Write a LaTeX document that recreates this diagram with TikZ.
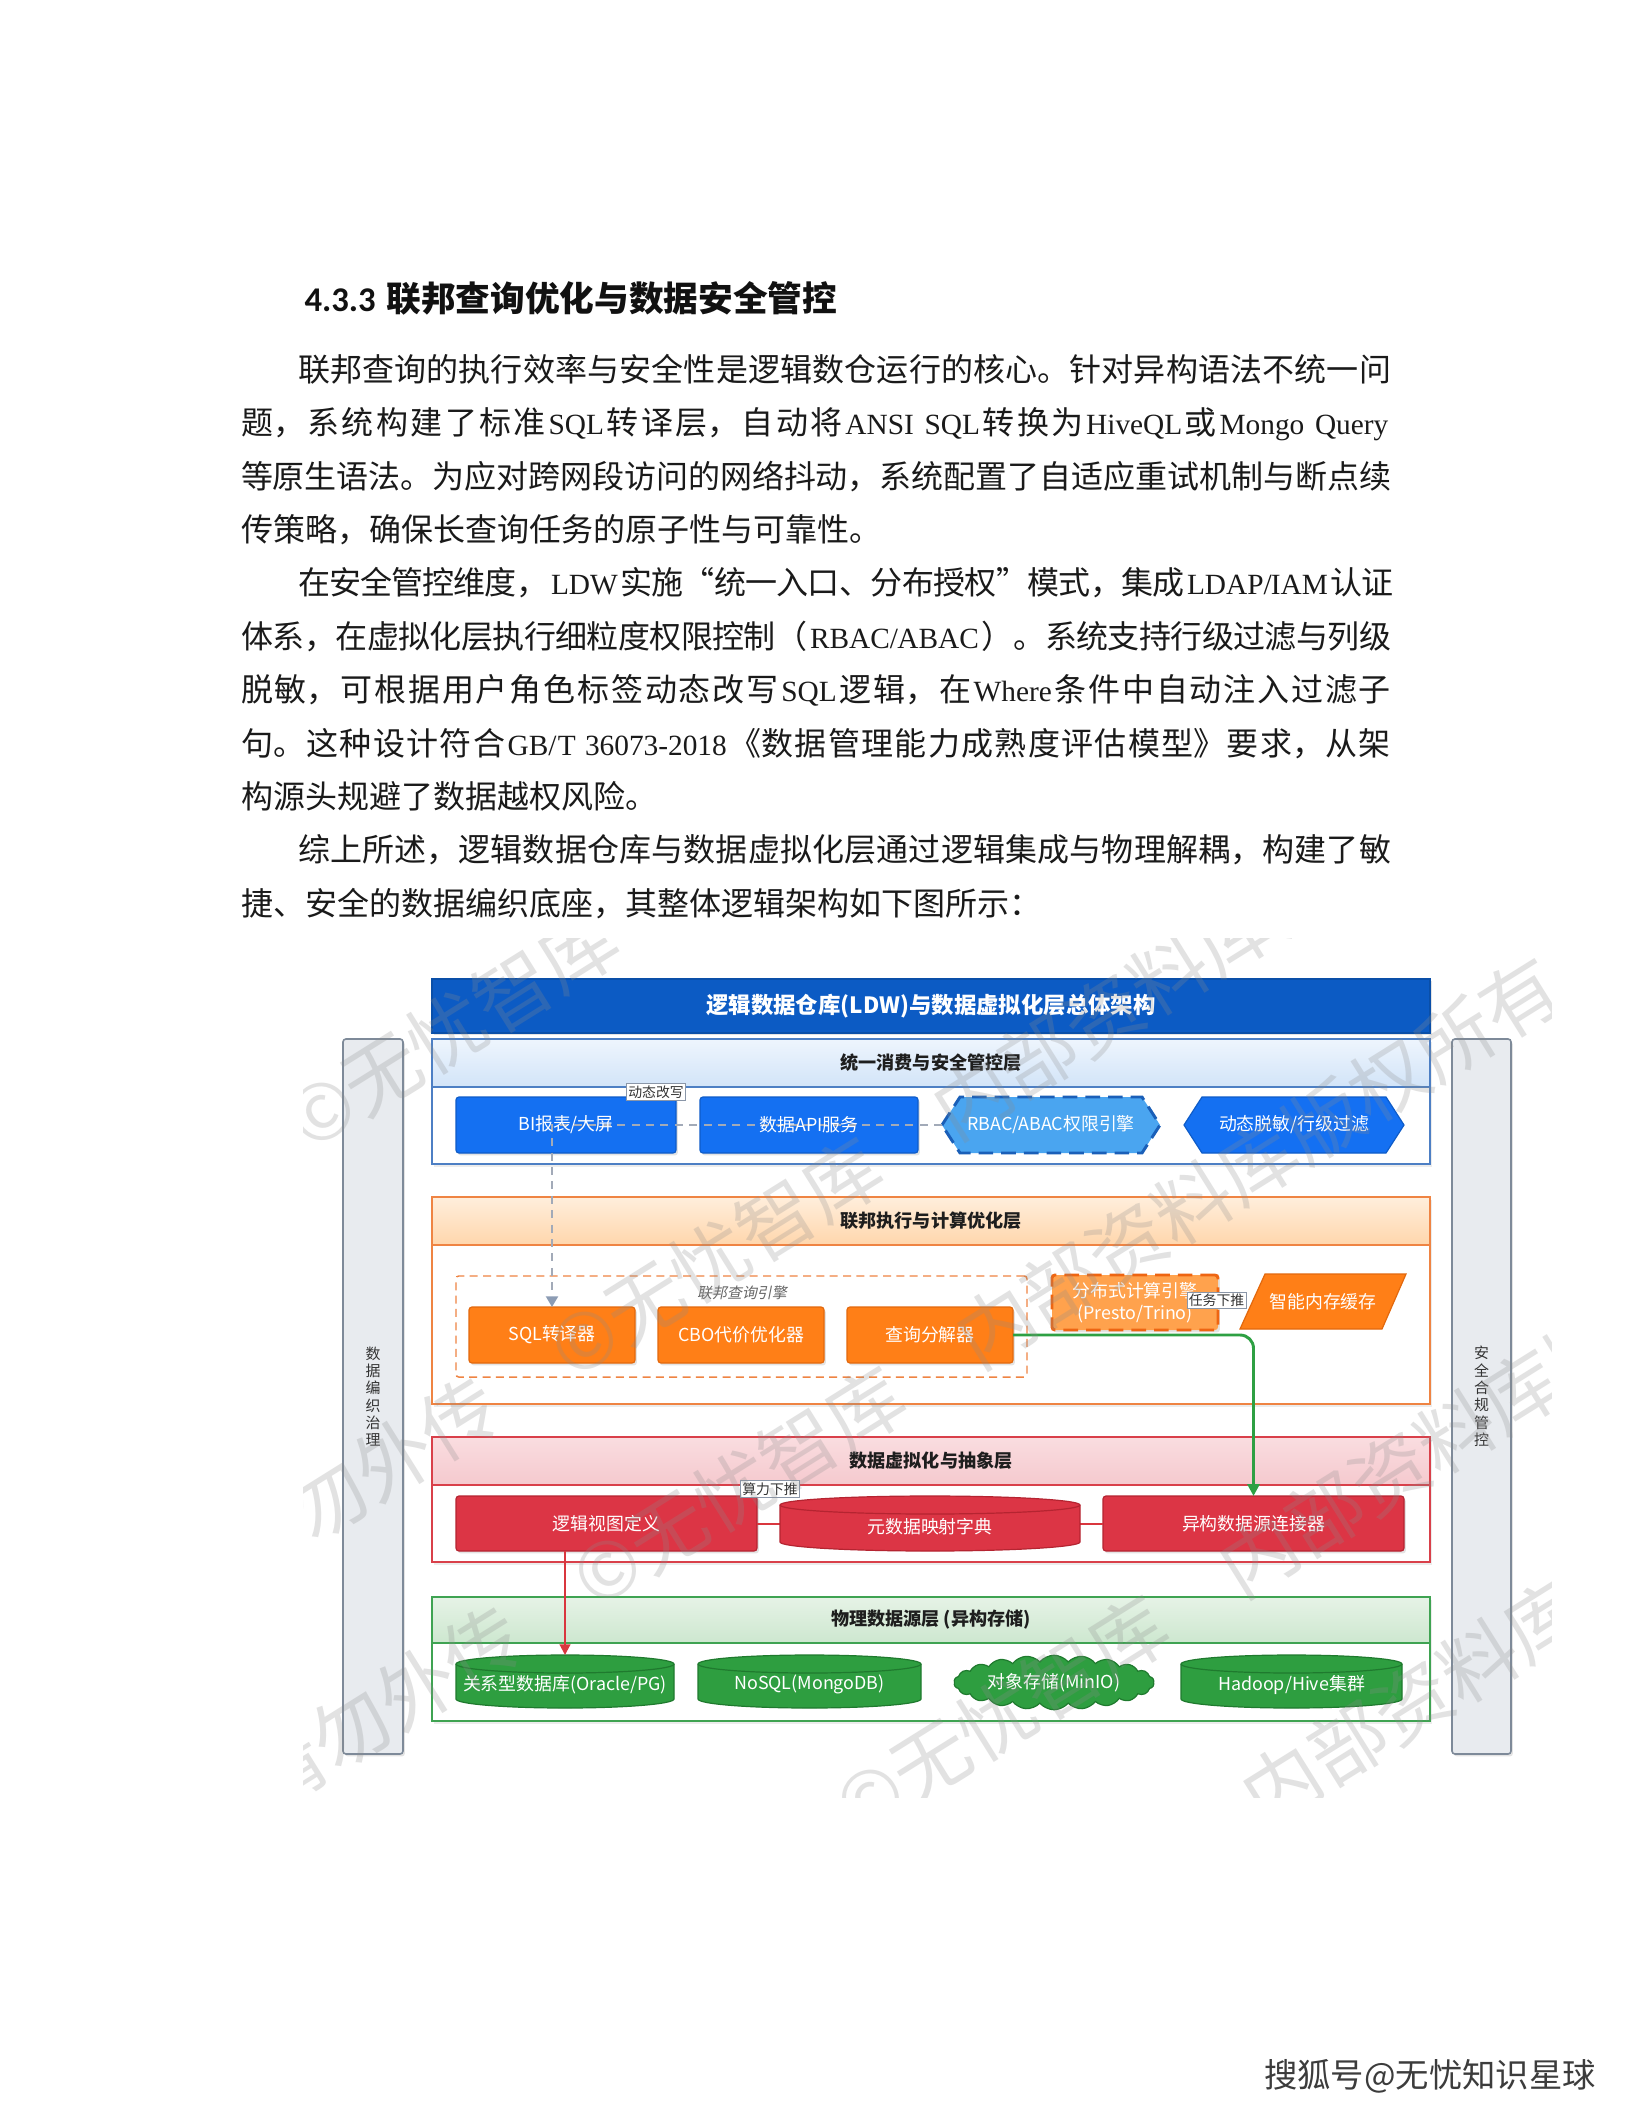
\documentclass[tikz,border=0pt]{standalone}
\usepackage{fontspec}
\setmainfont{Noto Sans CJK SC}
\newfontfamily\carlito{Carlito}
\newfontfamily\latfont{Liberation Serif}
\newfontfamily\cjkit{Noto Sans CJK SC}[FakeSlant=0.2]
\usetikzlibrary{arrows.meta,shapes.symbols,shadows}
\XeTeXlinebreaklocale "zh"
\XeTeXlinebreakskip=0pt plus 1pt minus 0.35pt
\newcommand\lat[1]{\kern1pt{\latfont\fontsize{11pt}{14pt}\selectfont #1}\kern1pt}
\newcommand\jline[2]{\parbox[t]{#1}{\XeTeXlinebreakpenalty=10000\tolerance=10000\hbadness=10000\hfuzz=20pt\parfillskip=0pt\parindent=0pt\rightskip=0pt #2\par}}
\definecolor{bodyc}{HTML}{1A1A1A}
\definecolor{headc}{HTML}{111111}
\definecolor{titlef}{HTML}{0C5BC4}
\definecolor{titled}{HTML}{0A4FA8}
\definecolor{bluef}{HTML}{1470F2}
\definecolor{blued}{HTML}{0E5CC8}
\definecolor{rbacf}{HTML}{4AA5F0}
\definecolor{rbacd}{HTML}{1A5FB8}
\definecolor{bframe}{HTML}{4D7FC4}
\definecolor{bheadT}{HTML}{EEF5FD}
\definecolor{bheadB}{HTML}{D2E4F8}
\definecolor{oframe}{HTML}{EF8443}
\definecolor{oheadT}{HTML}{FFEEDC}
\definecolor{oheadB}{HTML}{FFD6AC}
\definecolor{orgf}{HTML}{FF7F17}
\definecolor{orgd}{HTML}{E2680D}
\definecolor{distf}{HTML}{FFA24D}
\definecolor{distd}{HTML}{EE6512}
\definecolor{rframe}{HTML}{D9404A}
\definecolor{rheadT}{HTML}{FADDE0}
\definecolor{rheadB}{HTML}{F5C9CE}
\definecolor{redf}{HTML}{DC3545}
\definecolor{redd}{HTML}{B52431}
\definecolor{gframe}{HTML}{3FA352}
\definecolor{gheadT}{HTML}{E6F3E6}
\definecolor{gheadB}{HTML}{CDE7CF}
\definecolor{grnf}{HTML}{2E9E40}
\definecolor{grnd}{HTML}{1F7A2E}
\definecolor{sidef}{HTML}{E8EBEF}
\definecolor{sided}{HTML}{7E8A99}
\definecolor{sidetxt}{HTML}{333333}
\definecolor{dashg}{HTML}{A2AAB8}
\definecolor{arrowg}{HTML}{8C9CB4}
\definecolor{linkg}{HTML}{2EA043}
\definecolor{linkr}{HTML}{D9363E}
\definecolor{lblb}{HTML}{8A96A8}
\definecolor{lblt}{HTML}{333333}
\definecolor{hdrtxt}{HTML}{1E1E1E}
\definecolor{grptxt}{HTML}{666666}
\definecolor{sohu}{HTML}{3C3C3C}
\definecolor{wmgray}{HTML}{8C8C8C}

\newcommand\cylnode[7]{%
  \pgfmathsetmacro\cylrx{(#3-#2)/2*0.375}%
  \filldraw[fill=#6f, draw=#6d, line width=0.45pt] (#2,#4+9) -- (#2,#5-9)
    arc[start angle=180, end angle=360, x radius=\cylrx pt, y radius=3.375pt] -- (#3,#4+9)
    arc[start angle=0, end angle=180, x radius=\cylrx pt, y radius=3.375pt] -- cycle;
  \draw[draw=#6d, line width=0.45pt] (#3,#4+9) arc[start angle=0, end angle=-180, x radius=\cylrx pt, y radius=3.375pt];
  \coordinate (#1-top) at ({(#2+#3)/2},#4);
  \node[boxtxt] (#1) at ({(#2+#3)/2},{(#4+#5)/2+3}) {#7};
}
\newcommand\hexnode[6]{%
  \path[#5] (#2,#4) -- (#2+18,#4-28) -- (#3-18,#4-28) -- (#3,#4) -- (#3-18,#4+28) -- (#2+18,#4+28) -- cycle;
  \coordinate (#1-w) at (#2,#4);
  \node[boxtxt] (#1) at ({(#2+#3)/2},#4) {#6};
}

\tikzset{
  bodytxt/.style={anchor=base west, inner sep=0pt, outer sep=0pt, text=bodyc, font=\fontsize{12pt}{14pt}\selectfont},
  sz/.style 2 args={minimum width=#1*0.375pt, minimum height=#2*0.375pt},
  boxtxt/.style={inner sep=0pt, text=white, align=center, font=\fontsize{6.7pt}{8.2pt}\selectfont},
  dbox/.style={draw, rounded corners=1.1pt, inner sep=0pt, outer sep=0pt, line width=0.45pt, text=white, align=center, font=\fontsize{6.7pt}{8.2pt}\selectfont, drop shadow={opacity=0.22, shadow xshift=0.7pt, shadow yshift=-0.9pt}},
  layerframe/.style={draw, fill=white, line width=0.5pt, inner sep=0pt, outer sep=0pt, drop shadow={opacity=0.15, shadow xshift=0.8pt, shadow yshift=-1pt}},
  hdr/.style={draw, line width=0.5pt, inner sep=0pt, outer sep=0pt, font=\fontsize{6.8pt}{8pt}\selectfont\bfseries, text=hdrtxt},
  lbl/.style={fill=white, draw=lblb, line width=0.3pt, inner sep=0.7pt, font=\fontsize{5.2pt}{6pt}\selectfont, text=lblt},
  thickdash/.style={line width=1.1pt, dash pattern=on 5.5pt off 3pt},
  wmark/.style={inner sep=0pt, text=wmgray, text opacity=0.25, font=\fontsize{29pt}{32pt}\selectfont, rotate=32},
}

\begin{document}
\begin{tikzpicture}[x=0.375pt,y=-0.375pt]
\useasboundingbox (0,0) rectangle (1632,2112);
\fill[white] (0,0) rectangle (1632,2112);

% ---------- heading and body ----------
\node[anchor=base west, inner sep=0pt, text=headc] (h433) at (304,311)
  {\fontsize{13pt}{15pt}\selectfont\bfseries{\carlito\bfseries 4.3.3}\hspace{4pt}联邦查询优化与数据安全管控};

\node[bodytxt] (b1) at (298,381.5) {\jline{409.9pt}{联邦查询的执行效率与安全性是逻辑数仓运行的核心。针对异构语法不统一问}};
\node[bodytxt] (b2) at (241,434.9) {\jline{431.25pt}{题，系统构建了标准\lat{SQL}转译层，自动将\lat{ANSI\kern4pt SQL}转换为\lat{HiveQL}或\lat{Mongo~Query}}};
\node[bodytxt] (b3) at (241,488.2) {\jline{431.25pt}{等原生语法。为应对跨网段访问的网络抖动，系统配置了自适应重试机制与断点续}};
\node[bodytxt] (b4) at (241,541.6) {传策略，确保长查询任务的原子性与可靠性。};
\node[bodytxt] (b5) at (298,594.9) {\jline{409.9pt}{在安全管控维度，\lat{LDW}实施“统一入口、分布授权”模式，集成\lat{LDAP/IAM}认证}};
\node[bodytxt] (b6) at (241,648.3) {\jline{431.25pt}{体系，在虚拟化层执行细粒度权限控制（\lat{RBAC/ABAC}）。系统支持行级过滤与列级}};
\node[bodytxt] (b7) at (241,701.6) {\jline{431.25pt}{脱敏，可根据用户角色标签动态改写\lat{SQL}逻辑，在\lat{Where}条件中自动注入过滤子}};
\node[bodytxt] (b8) at (241,755.0) {\jline{431.25pt}{句。这种设计符合\lat{GB/T~36073-2018}《数据管理能力成熟度评估模型》要求，从架}};
\node[bodytxt] (b9) at (241,808.3) {构源头规避了数据越权风险。};
\node[bodytxt] (b10) at (298,861.7) {\jline{409.9pt}{综上所述，逻辑数据仓库与数据虚拟化层通过逻辑集成与物理解耦，构建了敏}};
\node[bodytxt] (b11) at (241,915.0) {捷、安全的数据编织底座，其整体逻辑架构如下图所示：};

% ---------- side bars ----------
\node[dbox, fill=sidef, draw=sided, line width=0.6pt, sz={60}{715}, text=sidetxt, font=\fontsize{5.6pt}{6.5pt}\selectfont] (lbar) at (373,1396.5) {数\\据\\编\\织\\治\\理};
\node[dbox, fill=sidef, draw=sided, line width=0.6pt, sz={59}{715}, text=sidetxt, font=\fontsize{5.6pt}{6.5pt}\selectfont] (rbar) at (1481.5,1396.5) {安\\全\\合\\规\\管\\控};

% ---------- title bar ----------
\node[dbox, fill=titlef, draw=titled, rounded corners=0pt, sz={998}{54}, font=\fontsize{8.4pt}{10pt}\selectfont\bfseries] (title) at (931,1006) {逻辑数据仓库(LDW)与数据虚拟化层总体架构};

% ---------- layer frames ----------
\node[layerframe, draw=bframe, sz={998}{125}] (L1) at (931,1101.5) {};
\node[hdr, draw=bframe, top color=bheadT, bottom color=bheadB, sz={998}{48}] (L1h) at (931,1063) {统一消费与安全管控层};

\node[layerframe, draw=oframe, sz={998}{207}] (L2) at (931,1300.5) {};
\node[hdr, draw=oframe, top color=oheadT, bottom color=oheadB, sz={998}{48}] (L2h) at (931,1221) {联邦执行与计算优化层};

\node[layerframe, draw=rframe, sz={998}{125}] (L3) at (931,1499.5) {};
\node[hdr, draw=rframe, top color=rheadT, bottom color=rheadB, sz={998}{48}] (L3h) at (931,1461) {数据虚拟化与抽象层};

\node[layerframe, draw=gframe, sz={998}{124}] (L4) at (931,1659) {};
\node[hdr, draw=gframe, top color=gheadT, bottom color=gheadB, sz={998}{46}] (L4h) at (931,1620) {物理数据源层 (异构存储)};

% ---------- layer 1 ----------
\node[dbox, fill=bluef, draw=blued, sz={220}{56}] (bi) at (566,1125) {};
\node[dbox, fill=bluef, draw=blued, sz={218}{56}] (api) at (809,1125) {};
\hexnode{rbac}{942}{1160}{1125}{fill=rbacf, draw=rbacd, thickdash}{RBAC/ABAC权限引擎}
\hexnode{mask}{1184}{1404}{1125}{fill=bluef, draw=blued, line width=0.45pt}{动态脱敏/行级过滤}

% ---------- layer 2 ----------
\node[draw=oframe, line width=0.55pt, dash pattern=on 3pt off 2pt, rounded corners=1pt, sz={571}{101}, inner sep=0pt] (fedgrp) at (741.5,1326.5) {};
\node[inner sep=0pt, text=grptxt, font=\cjkit\fontsize{5.6pt}{6.5pt}\selectfont] (fedlbl) at (742,1293) {联邦查询引擎};
\node[dbox, fill=orgf, draw=orgd, sz={166}{56}] (sqlt) at (552,1335) {SQL转译器};
\node[dbox, fill=orgf, draw=orgd, sz={166}{56}] (cbo) at (741,1335) {CBO代价优化器};
\node[dbox, fill=orgf, draw=orgd, sz={166}{56}] (dec) at (930,1335) {查询分解器};
\node[dbox, fill=distf, draw=distd, thickdash, sz={166}{55}] (dist) at (1135,1302.5) {分布式计算引擎\\(Presto/Trino)};
\filldraw[fill=orgf, draw=orgd, line width=0.45pt] (1265,1274) -- (1406,1274) -- (1382,1329) -- (1240,1329) -- cycle;
\node[boxtxt] (cache) at (1323,1301.5) {智能内存缓存};
\node[lbl] (pushlbl) at (1216.5,1300.5) {任务下推};

% ---------- layer 3 ----------
\node[dbox, fill=redf, draw=redd, sz={301}{55}] (logic) at (606.5,1523.5) {逻辑视图定义};
\node[dbox, fill=redf, draw=redd, sz={301}{55}] (conn) at (1253.5,1523.5) {异构数据源连接器};
\draw[linkr, line width=0.75pt] (logic.east) -- (conn.west);
\cylnode{meta}{780}{1080}{1496}{1551}{red}{元数据映射字典}
\node[lbl] (calclbl) at (770,1489) {算力下推};

% ---------- layer 4 ----------
\cylnode{rdb}{456}{674}{1655}{1708}{grn}{关系型数据库(Oracle/PG)}
\cylnode{nosql}{698}{921}{1655}{1708}{grn}{NoSQL(MongoDB)}
\node[cloud, cloud puffs=22, cloud puff arc=100, aspect=4.4, fill=grnf, draw=grnd, line width=0.45pt, inner sep=0pt, sz={200}{46}, text=white, font=\fontsize{6.7pt}{8pt}\selectfont] (minio) at (1054,1682.5) {对象存储(MinIO)};
\cylnode{hive}{1181}{1402}{1655}{1708}{grn}{Hadoop/Hive集群}

% ---------- connectors ----------
\draw[dashg, line width=0.75pt, dash pattern=on 3pt off 2.4pt, -{Triangle[width=4.5pt,length=4pt,color=arrowg]}] (rbac-w) -| (sqlt.north);
\node[boxtxt] (bitxt) at (bi.center) {BI报表/大屏};
\node[boxtxt] (apitxt) at (api.center) {数据API服务};
\node[lbl] (rewlbl) at (656,1092) {动态改写};
\draw[linkg, line width=1.1pt, rounded corners=5pt, -{Triangle[width=4.5pt,length=4.5pt]}] (dec.east) -| (conn.north);
\draw[linkr, line width=0.75pt, -{Triangle[width=4pt,length=4pt]}] (rdb-top |- logic.south) -- (rdb-top);

% ---------- watermark over the diagram image ----------
\begin{scope}
\clip (303,938) rectangle (1551,1797);
\foreach \k in {-4,...,4} {
  \node[wmark] (wm\k) at ({930+\k*270*0.53+mod(\k+8,2)*120},{1367+\k*270*0.848})
    {内部资料库版权所有\quad 请勿外传\quad ©无忧智库\quad 内部资料库版权所有\quad 请勿外传\quad ©无忧智库};
}
\end{scope}

% ---------- sohu mark ----------
\node[inner sep=0pt, text=sohu, font=\fontsize{12.5pt}{15pt}\selectfont] (sohumark) at (1430,2076) {搜狐号@无忧知识星球};
\end{tikzpicture}
\end{document}
